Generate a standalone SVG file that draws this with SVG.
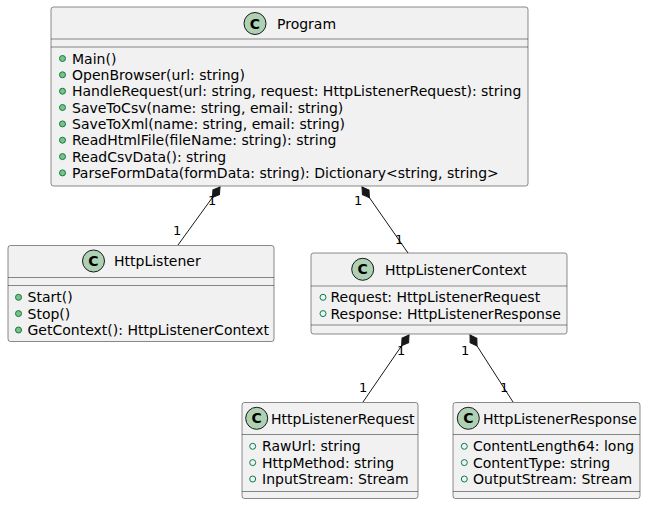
<svg xmlns="http://www.w3.org/2000/svg" width="646" height="505" viewBox="0 0 646 505">
<style>
.box{fill:#F1F1F1;stroke:#181818;stroke-width:0.5}
.sep{stroke:#181818;stroke-width:0.5}
.ci{fill:#ADD1B2;stroke:#181818;stroke-width:1}
.cl{font-family:"DejaVu Sans",sans-serif;font-size:14px;font-weight:bold;fill:#000}
t,text{font-family:"DejaVu Sans",sans-serif;fill:#000}
.nm{font-size:14px}
.mb{font-size:14px}
.m{fill:#84BE84;stroke:#038048;stroke-width:1}
.f{fill:none;stroke:#038048;stroke-width:1}
.lbl{font-size:13px}
.ln{stroke:#181818;stroke-width:1;fill:none;marker-start:url(#dia)}
</style>
<defs>
<marker id="dia" markerUnits="userSpaceOnUse" markerWidth="16" markerHeight="12" refX="0" refY="6" viewBox="0 0 16 12" orient="auto" overflow="visible">
<path d="M0,6 L6.5,2 L13,6 L6.5,10 Z" fill="#181818" stroke="#181818" stroke-width="1"/>
</marker>
</defs>
<g id="connectors">
<path class="ln" d="M220,187 L178,245"/>
<path class="ln" d="M362,187 L408,253"/>
<path class="ln" d="M409,335 L363,402"/>
<path class="ln" d="M470,335 L513,402"/>
<text class="lbl" x="208" y="205">1</text>
<text class="lbl" x="173" y="235">1</text>
<text class="lbl" x="354" y="205">1</text>
<text class="lbl" x="395" y="244">1</text>
<text class="lbl" x="397" y="355">1</text>
<text class="lbl" x="359" y="392">1</text>
<text class="lbl" x="461" y="355">1</text>
<text class="lbl" x="500" y="392">1</text>
</g>
<g id="Program">
<rect class="box" x="51" y="7" width="477" height="179" rx="2.5"/>
<circle class="ci" cx="255" cy="23.5" r="11"/>
<text class="cl" x="255" y="28.5" text-anchor="middle">C</text>
<text class="nm" x="277" y="28.5">Program</text>
<line class="sep" x1="51" y1="39" x2="528" y2="39"/>
<line class="sep" x1="51" y1="47" x2="528" y2="47"/>
<circle class="m" cx="62.5" cy="58.5" r="3"/><text class="mb" x="72" y="63.5">Main()</text>
<circle class="m" cx="62.5" cy="74.8" r="3"/><text class="mb" x="72" y="79.8">OpenBrowser(url: string)</text>
<circle class="m" cx="62.5" cy="91.2" r="3"/><text class="mb" x="72" y="96.2">HandleRequest(url: string, request: HttpListenerRequest): string</text>
<circle class="m" cx="62.5" cy="107.5" r="3"/><text class="mb" x="72" y="112.5">SaveToCsv(name: string, email: string)</text>
<circle class="m" cx="62.5" cy="123.9" r="3"/><text class="mb" x="72" y="128.9">SaveToXml(name: string, email: string)</text>
<circle class="m" cx="62.5" cy="140.2" r="3"/><text class="mb" x="72" y="145.2">ReadHtmlFile(fileName: string): string</text>
<circle class="m" cx="62.5" cy="156.6" r="3"/><text class="mb" x="72" y="161.6">ReadCsvData(): string</text>
<circle class="m" cx="62.5" cy="172.9" r="3"/><text class="mb" x="72" y="177.9">ParseFormData(formData: string): Dictionary&lt;string, string&gt;</text>
</g>
<g id="HttpListener">
<rect class="box" x="8" y="245.5" width="266" height="96" rx="2.5"/>
<circle class="ci" cx="93.5" cy="261" r="11"/>
<text class="cl" x="93.5" y="266" text-anchor="middle">C</text>
<text class="nm" x="114" y="266">HttpListener</text>
<line class="sep" x1="8" y1="277.5" x2="274" y2="277.5"/>
<line class="sep" x1="8" y1="285.5" x2="274" y2="285.5"/>
<circle class="m" cx="18.5" cy="297.3" r="3"/><text class="mb" x="27.5" y="302.3">Start()</text>
<circle class="m" cx="18.5" cy="313.6" r="3"/><text class="mb" x="27.5" y="318.6">Stop()</text>
<circle class="m" cx="18.5" cy="330" r="3"/><text class="mb" x="27.5" y="335">GetContext(): HttpListenerContext</text>
</g>
<g id="HttpListenerContext">
<rect class="box" x="311" y="253" width="256" height="81" rx="2.5"/>
<circle class="ci" cx="362.7" cy="269.3" r="11"/>
<text class="cl" x="362.7" y="274.3" text-anchor="middle">C</text>
<text class="nm" x="385" y="274.5">HttpListenerContext</text>
<line class="sep" x1="311" y1="286" x2="567" y2="286"/>
<circle class="f" cx="323" cy="297.3" r="3"/><text class="mb" x="330.5" y="302.3">Request: HttpListenerRequest</text>
<circle class="f" cx="323" cy="313.6" r="3"/><text class="mb" x="330.5" y="318.6">Response: HttpListenerResponse</text>
<line class="sep" x1="311" y1="325" x2="567" y2="325"/>
</g>
<g id="HttpListenerRequest">
<rect class="box" x="242" y="402.5" width="176" height="96" rx="2.5"/>
<circle class="ci" cx="256.7" cy="418.3" r="11"/>
<text class="cl" x="256.7" y="423.3" text-anchor="middle">C</text>
<text class="nm" x="271" y="423.5">HttpListenerRequest</text>
<line class="sep" x1="242" y1="434.5" x2="418" y2="434.5"/>
<circle class="f" cx="252.7" cy="446.3" r="3"/><text class="mb" x="262" y="451.3">RawUrl: string</text>
<circle class="f" cx="252.7" cy="462.6" r="3"/><text class="mb" x="262" y="467.6">HttpMethod: string</text>
<circle class="f" cx="252.7" cy="479" r="3"/><text class="mb" x="262" y="484">InputStream: Stream</text>
<line class="sep" x1="242" y1="491.5" x2="418" y2="491.5"/>
</g>
<g id="HttpListenerResponse">
<rect class="box" x="453" y="402.5" width="187" height="96" rx="2.5"/>
<circle class="ci" cx="468.3" cy="418.3" r="11"/>
<text class="cl" x="468.3" y="423.3" text-anchor="middle">C</text>
<text class="nm" x="483" y="423.5">HttpListenerResponse</text>
<line class="sep" x1="453" y1="434.5" x2="640" y2="434.5"/>
<circle class="f" cx="464.3" cy="446.3" r="3"/><text class="mb" x="473" y="451.3">ContentLength64: long</text>
<circle class="f" cx="464.3" cy="462.6" r="3"/><text class="mb" x="473" y="467.6">ContentType: string</text>
<circle class="f" cx="464.3" cy="479" r="3"/><text class="mb" x="473" y="484">OutputStream: Stream</text>
<line class="sep" x1="453" y1="491.5" x2="640" y2="491.5"/>
</g>
</svg>
